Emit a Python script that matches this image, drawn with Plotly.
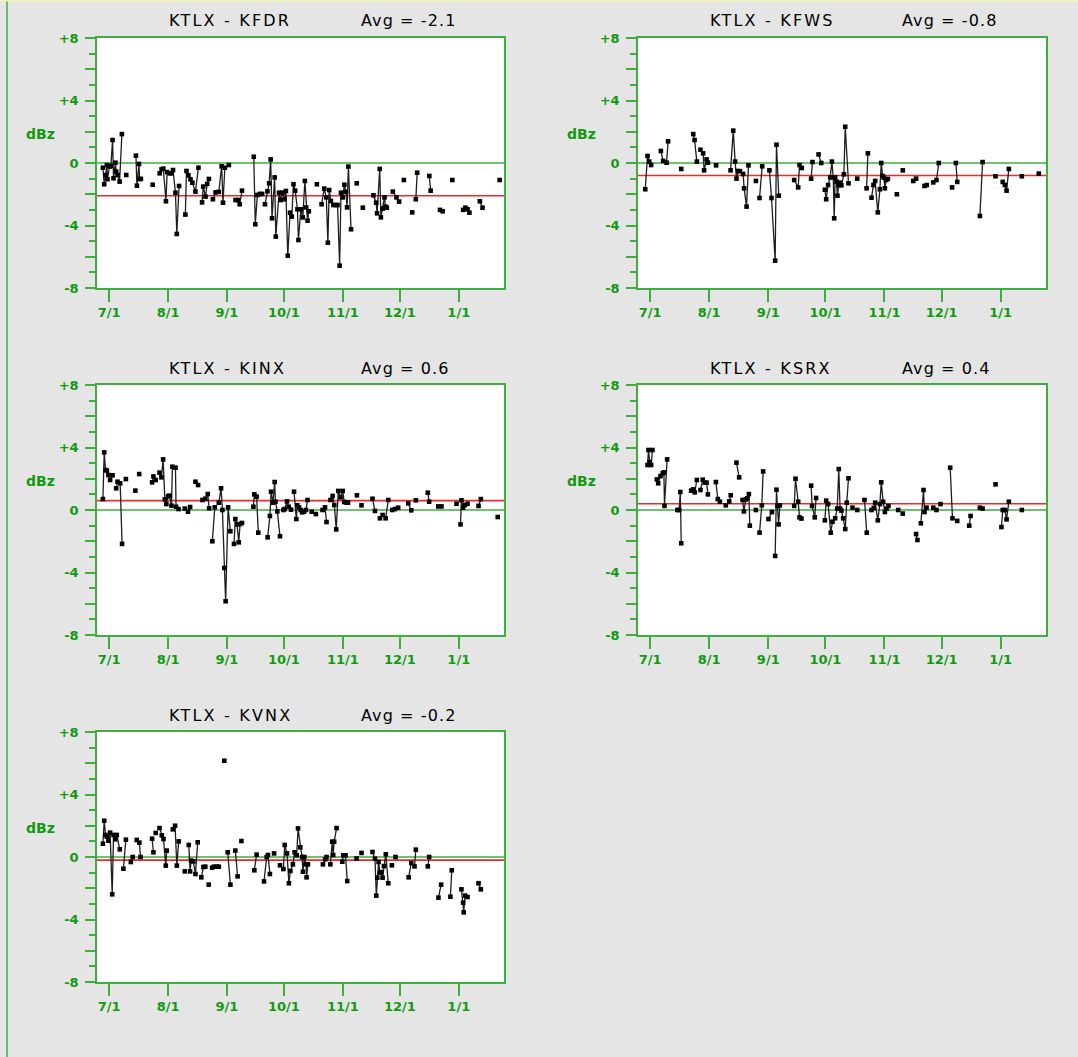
import plotly.graph_objects as go

# ---------------- data ----------------
stations = ["KFDR", "KFWS", "KINX", "KSRX", "KVNX"]
averages = [-2.1, -0.8, 0.6, 0.4, -0.2]

tick_days = [0, 31, 62, 92, 123, 153, 184]
tick_labels = ["7/1", "8/1", "9/1", "10/1", "11/1", "12/1", "1/1"]
ytick_vals = [-8, -6, -4, -2, 0, 2, 4, 6, 8]
ytick_labels = ["-8", "", "-4", "", "0", "", "+4", "", "+8"]
yminor_vals = [-7, -5, -3, -1, 1, 3, 5, 7]

# days since 7/1 ; None breaks the connecting line
kfdr_day = [-3.3, -2.6, -1.9, -1.2, -0.9, 0.2, 0.9, 1.8, 2.3, 3.3, 3.7, 4.4, 5.5, 6.7, None,
            9.0, None,
            14.1, 14.6, 15.7, 16.0, 16.7, None,
            22.9, None,
            26.6, 27.6, 28.5, 29.9, 30.5, 31.9, 32.9, 33.6, 34.9, 35.6, 36.8, None,
            40.1, 40.7, 41.7, 42.8, 43.8, 45.4, 47.0, None,
            48.9, 49.5, 50.7, 51.6, 52.5, None,
            54.6, 56.0, 57.7, 59.2, 59.9, 60.9, 63.0, None,
            66.5, 67.8, 68.7, 69.9, None,
            76.1, 76.9, 78.0, 79.2, 80.5, None,
            82.0, 83.3, 84.2, 85.0, 85.7, 87.1, 87.7, 89.4, 90.3, 91.2, 92.4, 93.0, 94.0, 95.2, 96.1,
            97.0, 97.9, 99.1, 99.6, 100.9, 101.9, 103.0, 103.7, 104.4, 105.1, None,
            109.3, None,
            111.8, 113.2, 114.3, 115.1, 115.8, 116.7, 118.0, 119.4, 120.2, 121.3, 122.0, 122.9, 123.8,
            124.6, 125.2, 125.9, 127.3, None,
            130.3, None, 133.5, None,
            139.1, 140.5, 141.0, 142.4, 143.0, 144.0, 144.9, 145.4, 146.1, None,
            149.3, 151.2, 152.6, None,
            155.1, None, 159.5, None,
            161.4, 162.1, None,
            168.5, 169.2, None,
            174.1, 175.5, None,
            180.6, None,
            186.3, 187.5, 188.6, 189.6, None,
            195.1, 196.5, None,
            205.5]
kfdr_dbz = [-0.3, -1.36, -0.77, -0.13, -1.04, -0.23, -0.19, 1.47, -0.98, 0.02, -0.55, -0.77, -1.19, 1.85, None,
            -0.77, None,
            0.47, -1.45, -0.06, -1.02, -1.02, None,
            -1.39, None,
            -0.66, -0.4, -0.36, -2.45, -0.58, -0.66, -0.66, -0.45, -1.9, -4.54, -1.47, None,
            -3.3, -0.51, -0.79, -1.04, -1.26, -1.83, -0.3, None,
            -2.52, -1.51, -2.15, -1.34, -1.02, None,
            -2.32, -1.88, -1.85, -0.21, -2.54, -0.3, -0.13, None,
            -2.37, -2.37, -2.64, -1.77, None,
            0.4, -3.92, -2.05, -1.98, -1.98, None,
            -2.64, -1.81, -1.3, 0.23, -3.54, -0.92, -4.71, -1.9, -2.37, -1.9, -2.32, -1.79, -5.93, -3.18, -3.43,
            -1.36, -1.77, -2.96, -4.93, -2.96, -3.48, -1.15, -2.84, -3.69, -3.09, None,
            -1.36, None,
            -2.64, -1.64, -2.2, -5.1, -1.73, -2.43, -2.69, -2.69, -2.69, -6.57, -1.9, -2.2, -1.39,
            -1.85, -2.84, -0.23, -4.24, None,
            -1.3, None, -2.86, None,
            -2.07, -2.54, -3.22, -0.38, -3.48, -2.92, -2.2, -2.79, -2.86, None,
            -1.83, -2.2, -2.47, None,
            -1.09, None, -3.16, None,
            -2.32, -0.62, None,
            -0.83, -1.77, None,
            -3.0, -3.09, None,
            -1.09, None,
            -3.0, -2.86, -2.96, -3.18, None,
            -2.45, -2.86, None,
            -1.09]

kfws_day = [-2.6, -1.4, -0.5, 0.5, None,
            5.6, 6.8, 8.6, 9.4, None,
            16.3, None,
            22.6, 23.3, 24.5, None,
            26.4, 27.8, 28.3, 29.6, 30.3, None,
            34.6, None,
            42.2, 43.6, 44.6, 45.3, 46.2, 47.1, 48.8, 49.3, 50.6, 51.6, None,
            55.5, None,
            57.4, 58.8, None,
            62.6, 63.7, 65.6, 66.3, 67.5, None,
            75.6, 77.7, 78.4, 79.6, None,
            84.5, 85.2, None,
            88.4, 89.8, None,
            91.7, 92.4, 93.4, 94.5, 95.4, 96.1, 96.6, 97.1, 97.8, 98.3, 99.0, 99.6, 100.4, 101.7, 102.4, 104.1, None,
            108.7, None,
            113.6, 114.3, None,
            116.2, 117.2, 118.1, 119.5, 120.6, 121.3, 122.0, 122.7, 123.2, 123.9, 124.8, None,
            129.5, None, 132.6, None,
            138.1, 139.6, None,
            144.0, 145.2, None,
            148.6, 150.3, 151.5, None,
            158.5, None,
            160.5, 161.2, None,
            173.1, 174.5, None,
            181.3, None,
            185.1, 186.2, 187.1, 188.3, None,
            195.1, None,
            204.0]
kfws_dbz = [-1.68, 0.45, 0.09, -0.13, None,
            0.77, 0.13, 0.02, 1.39, None,
            -0.38, None,
            1.85, 1.47, 0.09, None,
            0.85, 0.62, -0.47, 0.23, 0.02, None,
            -0.15, None,
            -0.47, 2.07, 0.09, -1.0, -0.51, -0.53, -0.7, -1.62, -2.79, -0.15, None,
            -1.15, None,
            -2.24, -0.21, None,
            -0.47, -2.24, -6.25, 1.17, -2.09, None,
            -1.09, -1.56, -0.13, -0.32, None,
            -1.0, 0.06, None,
            0.55, 0.0, None,
            -1.71, -2.32, -1.41, -0.92, 0.09, -0.92, -3.54, -0.92, -1.19, -2.09, -1.41, -1.26, -1.43, -0.72, 2.32, -1.3, None,
            -1.0, None,
            -1.62, 0.62, None,
            -2.22, -1.41, -1.15, -3.16, -1.68, 0.0, -0.83, -0.94, -1.62, -1.09, -1.02, None,
            -2.0, None, -0.47, None,
            -1.15, -1.0, None,
            -1.47, -1.41, None,
            -1.24, -1.09, 0.0, None,
            -1.56, None,
            0.0, -1.21, None,
            -3.39, 0.06, None,
            -0.85, None,
            -1.21, -1.41, -1.77, -0.38, None,
            -0.85, None,
            -0.68]

kinx_day = [-3.3, -2.6, -1.9, -1.2, -0.4, 0.5, 1.8, None,
            3.7, 4.4, 5.8, 6.8, None,
            8.8, None, 13.8, None, 15.8, None,
            22.6, 23.3, 24.5, None,
            26.5, 27.5, 28.4, 29.3, 30.1, 31.0, 31.7, 32.8, 33.3, 34.9, 35.2, 36.5, None,
            39.8, 41.5, 42.6, None,
            45.4, 46.8, None,
            49.1, 50.6, 51.9, 52.6, None,
            54.3, 55.6, None,
            57.7, 58.9, 59.6, 60.6, 61.3, 62.6, 63.8, None,
            65.7, 66.4, 67.3, 68.2, 68.9, 69.9, None,
            75.9, 76.4, 77.6, 78.5, None,
            83.4, 84.6, 85.2, 86.2, 87.1, 87.5, 88.5, 89.9, None,
            91.7, 92.4, 93.6, 94.5, 95.7, None,
            97.3, 98.5, 99.0, 99.9, 100.8, 101.6, 102.5, 103.6, 104.4, None,
            106.6, None, 108.8, None,
            112.3, 113.6, 114.4, None,
            116.5, 117.6, 118.5, 119.5, 120.6, 121.8, 122.9, 123.7, 125.0, 125.7, None,
            130.4, None, 132.8, None,
            138.6, 139.9, None,
            142.5, 143.9, 145.5, 146.9, None,
            149.0, 150.4, 152.1, None,
            157.4, 159.0, None,
            161.4, None,
            167.7, 168.4, None,
            173.2, 174.9, None,
            182.8, None,
            184.9, 185.4, 186.3, 187.2, 188.6, None,
            194.4, 195.6, None,
            204.5]
kinx_dbz = [0.7, 3.69, 2.56, 2.52, 2.24, 1.92, 2.22, None,
            1.39, 1.81, 1.71, -2.17, None,
            1.98, None, 1.24, None, 2.3, None,
            1.77, 2.15, 1.92, None,
            2.39, 2.09, 3.24, 0.68, 0.38, 0.87, 0.92, 0.28, 2.77, 2.71, 0.21, 0.06, None,
            0.09, -0.11, 0.19, None,
            1.81, 1.6, None,
            0.64, 0.72, 1.02, 0.11, None,
            -2.0, 0.17, None,
            0.47, 1.39, 0.0, -3.71, -5.84, 0.17, -1.36, None,
            -2.17, -0.58, -0.92, -2.07, -0.9, -0.83, None,
            0.21, 1.0, 0.85, -1.45, None,
            -1.75, -0.38, 1.17, 0.47, 1.79, 0.53, -0.09, -1.68, None,
            0.0, 0.06, 0.55, 0.21, 0.02, None,
            1.17, -0.58, 0.3, 0.17, 0.0, -0.15, -0.11, 0.0, 0.64, None,
            -0.11, None, -0.26, None,
            0.0, 0.17, -0.77, None,
            0.64, 0.9, 0.32, -1.24, 1.22, 0.81, 1.22, 0.51, 0.47, 0.47, None,
            0.94, None, 0.3, None,
            0.72, -0.06, None,
            -0.53, -0.32, -0.53, 0.64, None,
            0.0, 0.06, 0.15, None,
            0.43, -0.02, None,
            0.62, None,
            1.11, 0.53, None,
            0.23, 0.23, None,
            0.4, None,
            -0.92, 0.62, 0.15, 0.32, 0.4, None,
            0.26, 0.7, None,
            -0.45]

ksrx_day = [-1.4, -0.9, -0.2, 0.5, 1.2, None,
            3.5, 4.2, 5.4, 6.6, 7.2, 7.5, 8.9, None,
            14.3, 15.2, 15.8, 16.3, None,
            21.5, 22.6, 23.4, 24.5, None,
            26.4, 27.6, 28.7, 29.6, 30.3, None,
            34.5, 35.5, 36.6, None,
            39.7, 41.5, 42.3, None,
            45.3, 46.7, None,
            48.5, 49.2, 50.2, 51.0, 51.8, 52.3, None,
            55.5, None,
            57.4, 58.6, 59.3, None,
            62.1, 63.9, None,
            65.6, 66.3, 66.8, 67.4, 68.1, None,
            75.6, 76.3, 77.7, 78.4, 79.4, None,
            84.5, 85.0, 86.4, 87.1, None,
            91.7, 92.4, 93.4, 94.8, 95.7, 97.1, 98.2, 99.0, 99.7, 100.4, 101.3, 102.4, 103.2, 104.1, None,
            106.2, None, 108.7, None,
            112.5, 113.7, None,
            116.2, 117.4, 118.1, 119.5, 120.6, 121.3, 122.3, 123.2, 124.1, 125.1, None,
            130.2, None, 132.6, None,
            139.6, 140.3, None,
            142.1, 143.5, 144.0, 145.1, None,
            148.6, 150.3, None,
            152.4, None,
            157.5, 158.7, None,
            161.2, None,
            167.5, 168.2, None,
            173.1, 174.5, None,
            181.3, None,
            184.4, 185.1, 186.2, 187.1, 188.3, None,
            195.1]
ksrx_dbz = [2.88, 3.84, 3.07, 2.88, 3.84, None,
            1.96, 1.71, 2.17, 2.35, 2.41, 0.26, 3.24, None,
            0.0, 0.0, 1.15, -2.13, None,
            1.24, 1.32, 1.13, 1.92, None,
            1.28, 1.94, 1.75, 1.75, 1.0, None,
            1.79, 0.7, 0.53, None,
            0.3, 0.55, 0.94, None,
            3.03, 2.09, None,
            0.64, -0.09, 0.68, 0.75, 1.02, -1.0, None,
            0.0, None,
            -1.45, 0.3, 2.47, None,
            -0.58, -0.13, None,
            -2.94, 1.3, 0.26, -0.92, 0.3, None,
            0.26, 2.0, 0.53, -0.47, -0.55, None,
            1.56, 0.26, -0.47, 0.77, None,
            -0.66, 0.6, 0.38, -1.45, -0.75, -0.53, 0.09, 2.62, 0.09, -0.04, -0.53, -1.22, 0.47, 2.03, None,
            0.15, None, 0.0, None,
            0.64, -1.45, None,
            0.0, 0.13, 0.47, -0.66, 0.38, 1.77, 0.53, -0.13, 0.09, 0.26, None,
            0.0, None, -0.23, None,
            -1.54, -1.92, None,
            -0.85, 1.28, -0.13, 0.15, None,
            0.15, 0.0, None,
            0.38, None,
            2.71, -0.53, None,
            -0.7, None,
            -1.0, -0.38, None,
            0.15, 0.09, None,
            1.64, None,
            -1.09, 0.0, 0.0, -0.6, 0.53, None,
            0.0]

kvnx_day = [-3.3, -2.6, -1.9, -1.2, -0.4, 0.5, 1.6, 2.3, 3.2, 4.0, 5.6, None,
            7.5, 8.8, None,
            11.4, 12.4, None,
            14.5, 15.9, 16.5, None,
            22.6, 23.3, None,
            24.5, None,
            26.5, 27.7, 28.6, 29.8, 30.3, None,
            33.5, 34.7, 35.6, 36.6, None,
            39.8, None,
            41.9, 42.6, 43.1, 44.3, 45.4, 46.6, None,
            48.5, 49.6, 50.6, None,
            52.4, None,
            54.2, 55.2, 56.6, 57.7, None,
            60.6, None,
            62.4, 63.8, None,
            66.4, 67.6, None,
            69.6, None,
            76.4, 77.6, None,
            81.5, 82.9, 83.6, 84.6, None,
            86.8, None,
            89.9, None,
            91.7, 92.4, 93.6, 94.6, 95.4, 96.7, 97.6, 98.7, 99.4, 100.6, 101.5, 102.0, 102.7, 103.6, 103.9, 104.6, None,
            112.5, 113.7, 114.4, None,
            116.4, 117.4, 117.9, 118.4, 119.7, None,
            122.7, 123.2, 124.4, 125.3, None,
            130.2, None, 132.8, None,
            138.6, 139.9, 140.6, 141.1, 141.8, 142.5, 143.2, 143.9, 144.6, 145.6, 146.9, None,
            148.8, None, 150.7, None,
            157.6, 159.0, None,
            160.7, 161.4, None,
            167.7, 168.4, None,
            173.3, 174.7, None,
            179.6, 180.3, None,
            185.4, 186.3, 186.6, 187.3, 188.6, None,
            194.4, 195.6]
kvnx_dbz = [0.85, 2.32, 1.41, 1.3, 1.04, 1.56, -2.39, 1.41, 1.13, 1.41, 0.49, None,
            -0.75, 1.11, None,
            -0.32, 0.0, None,
            1.09, 0.92, 0.0, None,
            1.17, 0.3, None,
            1.54, None,
            1.85, 1.39, 1.15, -0.55, 0.41, None,
            1.77, 2.0, -0.55, 1.0, None,
            -0.92, None,
            0.77, -0.92, -0.23, -0.28, -1.09, 0.94, None,
            -1.3, -0.64, -0.62, None,
            -1.77, None,
            -0.68, -0.62, -0.62, -0.62, None,
            6.16, None,
            0.3, -1.77, None,
            0.41, -1.24, None,
            1.02, None,
            -0.85, 0.15, None,
            -1.56, 0.0, 0.13, -1.09, None,
            0.23, None,
            -0.53, None,
            -0.77, 0.77, 0.23, -1.68, -0.89, -0.47, 0.3, 0.11, 1.83, 0.62, 0.0, -0.94, 0.0, -0.47, -1.3, -0.47, None,
            -0.47, -0.15, 0.0, None,
            -0.47, 0.98, 0.13, 0.98, 1.85, None,
            -0.3, 0.11, 0.11, -1.54, None,
            -0.09, None, 0.26, None,
            0.32, -0.11, -2.47, -1.32, -0.32, -1.0, -0.96, -1.32, -0.58, 0.17, -1.68, None,
            -0.53, None, 0.0, None,
            -1.3, -0.38, None,
            -0.6, 0.47, None,
            -0.6, 0.0, None,
            -2.6, -1.77, None,
            -2.54, -0.85, None,
            -2.07, -2.92, -3.54, -2.47, -2.56, None,
            -1.68, -2.07]

series_days = [kfdr_day, kfws_day, kinx_day, ksrx_day, kvnx_day]
series_dbz = [kfdr_dbz, kfws_dbz, kinx_dbz, ksrx_dbz, kvnx_dbz]
for a, b in zip(series_days, series_dbz):
    assert len(a) == len(b), (len(a), len(b))

# ---------------- style / layout ----------------
W, H = 1078, 1057
BG = "#e5e5e5"
AXIS_GREEN = "#3fae3f"
TEXT_GREEN = "#109a10"
RED = "#ee2a2a"
X_RANGE = [-6.4, 207.8]

col_px = [(97, 504), (638, 1046)]
row_px = [(38, 288), (385, 635), (732, 982)]
grid_pos = [(0, 0), (0, 1), (1, 0), (1, 1), (2, 0)]

fig = go.Figure()
annotations = []
layout_axes = {}

for i, st in enumerate(stations):
    r, c = grid_pos[i]
    x0, x1 = col_px[c]
    y0, y1 = row_px[r]
    n = "" if i == 0 else str(i + 1)
    xa, ya = "x" + n, "y" + n

    # zero line and average line
    fig.add_trace(go.Scatter(x=[-20, 230], y=[0, 0], mode="lines",
                             line=dict(color=AXIS_GREEN, width=1.3),
                             xaxis=xa, yaxis=ya, hoverinfo="skip", showlegend=False))
    fig.add_trace(go.Scatter(x=[-20, 230], y=[averages[i], averages[i]], mode="lines",
                             line=dict(color=RED, width=1.6),
                             xaxis=xa, yaxis=ya, hoverinfo="skip", showlegend=False))
    # data
    fig.add_trace(go.Scatter(x=series_days[i], y=series_dbz[i], mode="lines+markers",
                             line=dict(color="#1e1e1e", width=1.3),
                             marker=dict(symbol="square", size=4.6, color="black",
                                         line=dict(width=0)),
                             connectgaps=False, xaxis=xa, yaxis=ya, showlegend=False))

    layout_axes["xaxis" + n] = dict(
        domain=[x0 / W, x1 / W], anchor=ya, range=X_RANGE, automargin=False,
        tickmode="array", tickvals=tick_days, ticktext=tick_labels,
        ticks="outside", ticklen=12, tickwidth=1.5, tickcolor=AXIS_GREEN,
        showline=True, linecolor=AXIS_GREEN, linewidth=1.5, mirror=True,
        showgrid=False, zeroline=False, fixedrange=True,
        tickfont=dict(family="DejaVu Sans", size=13, color=TEXT_GREEN, weight="bold"),
    )
    layout_axes["yaxis" + n] = dict(
        domain=[1 - y1 / H, 1 - y0 / H], anchor=xa, range=[-8, 8], automargin=False,
        tickmode="array", tickvals=ytick_vals, ticktext=ytick_labels,
        ticks="outside", ticklen=10, tickwidth=1.5, tickcolor=AXIS_GREEN,
        minor=dict(tickmode="array", tickvals=yminor_vals, ticks="outside",
                   ticklen=6, tickwidth=1.5, tickcolor=AXIS_GREEN, showgrid=False),
        showline=True, linecolor=AXIS_GREEN, linewidth=1.5, mirror=True,
        showgrid=False, zeroline=False, fixedrange=True, ticklabelstandoff=4,
        tickfont=dict(family="DejaVu Sans", size=13, color=TEXT_GREEN, weight="bold"),
    )

    # titles
    ty = 1 - (y0 - 17) / H
    annotations.append(dict(x=(x0 + 70) / W, y=ty, xref="paper", yref="paper",
                            text=f'<span style="letter-spacing:2.2px">KTLX - {st}</span>',
                            showarrow=False, xanchor="left", yanchor="middle",
                            font=dict(family="DejaVu Sans", size=16, color="black")))
    annotations.append(dict(x=(x0 + 262) / W, y=ty, xref="paper", yref="paper",
                            text=f'<span style="letter-spacing:1.1px">Avg = {averages[i]}</span>',
                            showarrow=False, xanchor="left", yanchor="middle",
                            font=dict(family="DejaVu Sans", size=16, color="black")))
    annotations.append(dict(x=(x0 - 73) / W, y=1 - (y0 + 96) / H, xref="paper", yref="paper",
                            text="dBz", showarrow=False, xanchor="left", yanchor="middle",
                            font=dict(family="DejaVu Sans", size=14, color=TEXT_GREEN, weight="bold")))

fig.update_layout(
    width=W, height=H, margin=dict(l=0, r=0, t=0, b=0, pad=0, autoexpand=False),
    paper_bgcolor=BG, plot_bgcolor="white", showlegend=False,
    annotations=annotations,
    shapes=[
        dict(type="line", xref="paper", yref="paper", x0=7 / W, x1=7 / W, y0=0, y1=1,
             line=dict(color=AXIS_GREEN, width=1.5)),
        dict(type="line", xref="paper", yref="paper", x0=0, x1=1, y0=1 - 0.8 / H, y1=1 - 0.8 / H,
             line=dict(color="#f4f4b8", width=1.6)),
    ],
    **layout_axes,
)

fig.write_html("out.html")
